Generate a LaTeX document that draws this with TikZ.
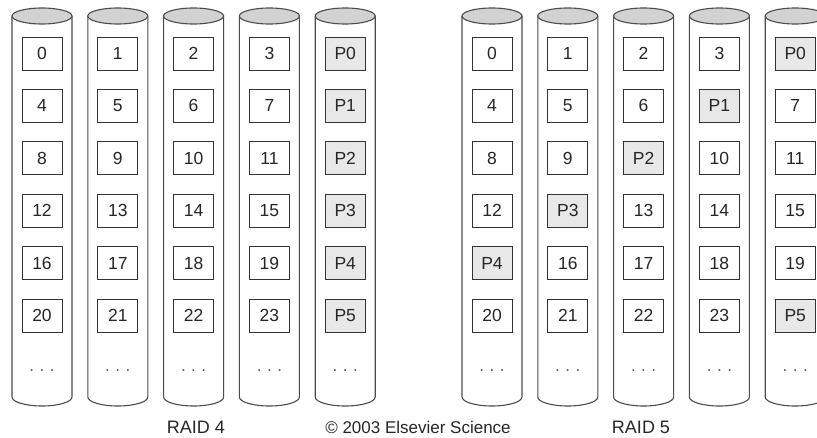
\documentclass[tikz,border=0pt]{standalone}
\usepackage{fontspec}
\setmainfont{Liberation Sans}
\usepackage{tikz}
\usepackage{xcolor}

\definecolor{lidgray}{HTML}{D2D2D2}
\definecolor{paritygray}{HTML}{E8E8E8}

\tikzset{
  disk/.style={draw=black!70, line width=1.1pt},
  block/.style={draw=black!80, line width=0.9pt, fill=white, text=black!85,
    minimum width=40pt, minimum height=33pt, inner sep=0pt,
    font=\fontsize{17.5}{19}\selectfont},
  parity/.style={block, fill=paritygray},
  dots/.style={anchor=base, text=black!65, font=\fontsize{17}{19}\selectfont},
  caption/.style={anchor=base, inner sep=0pt, text=black!85, font=\fontsize{18}{20}\selectfont}
}

\begin{document}
\begin{tikzpicture}[x=1pt, y=1pt]
        \useasboundingbox (0,0) rectangle (817,437);
        \clip (0,0) rectangle (817,437);

        % Two arrays of five disks each
        \foreach \g/\raid in {0/4, 450/5} {
            \foreach \k in {0,...,4} {
                \pgfmathsetmacro\cx{42+\g+75.8*\k}
                \draw[disk, fill=white] (\cx-30,421) -- (\cx-30,40)
                    arc[start angle=180, end angle=360, x radius=30, y radius=9] -- (\cx+30,421);
                \draw[disk, fill=lidgray] (\cx,421) ellipse[x radius=30, y radius=8];
                \node[dots] (dots\raid-\k) at (\cx,66) {.\hspace{5.5pt}.\hspace{5.5pt}.};
            }
            % Blocks: parity fixed on the last disk (RAID 4) or rotating (RAID 5)
            \foreach \r in {0,...,5} {
                \pgfmathtruncatemacro\pc{\raid==4 ? 4 : 4-mod(\r,5)}
                \foreach \k in {0,...,4} {
                    \pgfmathtruncatemacro\blk{4*\r+\k-(\k>\pc)}
                    \pgfmathsetmacro\cx{42+\g+75.8*\k}
                    \pgfmathsetmacro\cy{383.5-52.4*\r}
                    \ifnum\k=\pc
                        \node[parity] (b\raid-\r-\k) at (\cx,\cy) {P\r};
                    \else
                        \node[block] (b\raid-\r-\k) at (\cx,\cy) {\blk};
                    \fi
                }
            }
        }

        % Captions
        \node[caption] (raid4) at (196,4) {RAID 4};
        \node[caption] (raid5) at (641,4) {RAID 5};
        \node[caption, font=\fontsize{17}{20}\selectfont] (copyright) at (418,4) {© 2003 Elsevier Science};
    \end{tikzpicture}
\end{document}
